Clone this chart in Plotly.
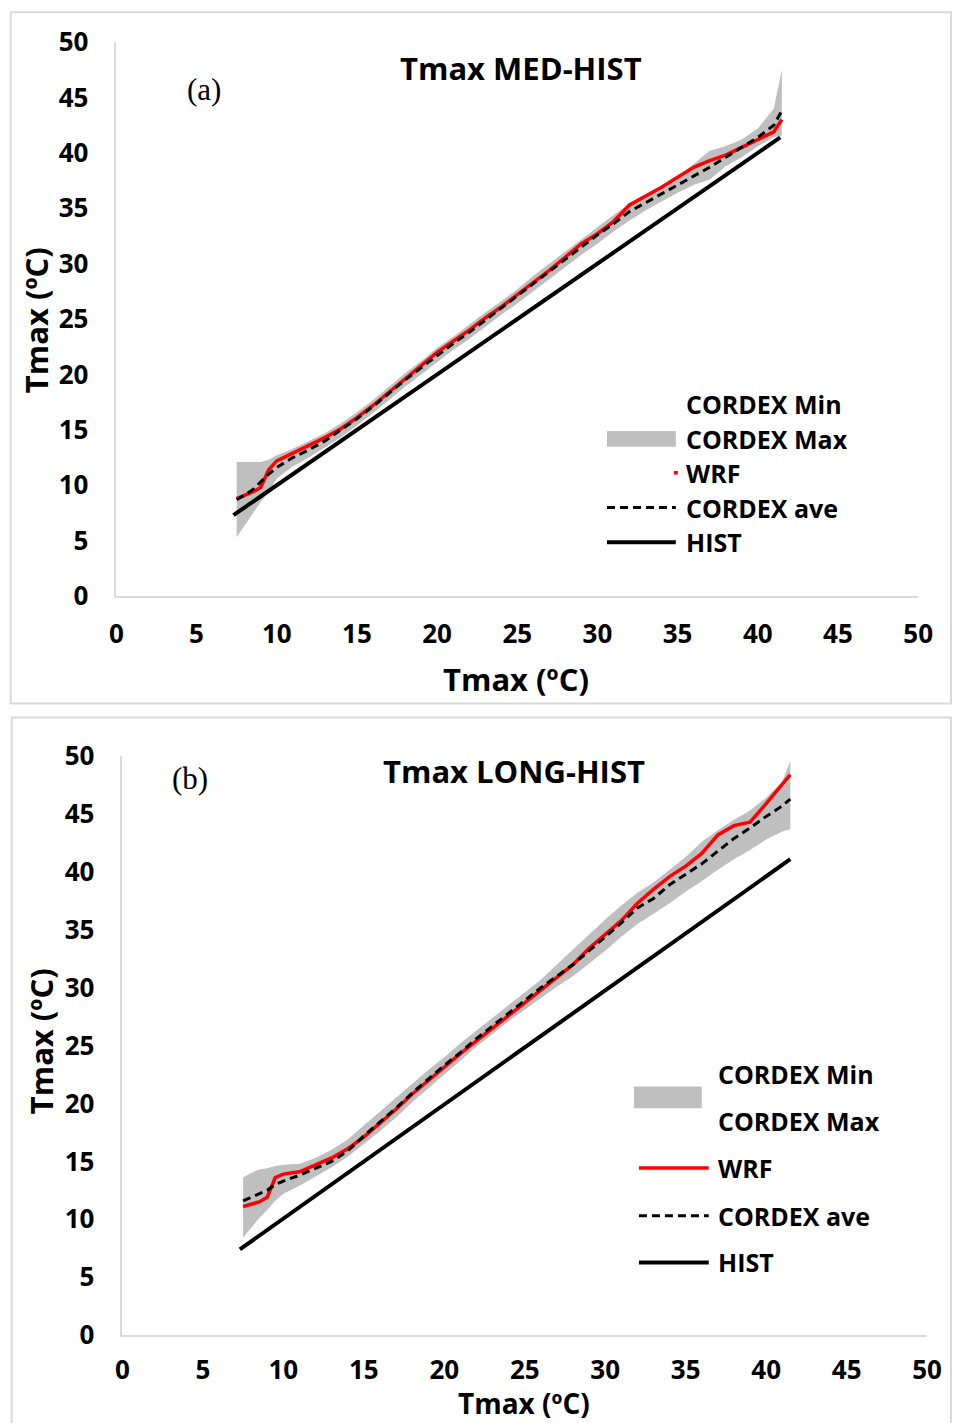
import plotly.graph_objects as go

W, H = 967, 1423
# the photographed page shows the figure slightly scaled/offset; positions below are
# given in target-picture pixels and mapped back to figure pixels
S, BX, BY = 0.98, 6.3, 16.8

# ---------------- data ----------------
x_q = [7.5, 8, 8.5, 9, 9.5, 10, 11, 12, 13, 14, 15, 16, 17, 18, 19, 20, 21, 22, 23, 24,
       25, 26, 27, 28, 29, 30, 31, 32, 33, 34, 35, 36, 37, 38, 39, 40, 41, 41.5]

# Panel (a) Tmax MED-HIST
wrf_a = [8.8, 9.1, 9.4, 9.8, 11.4, 12.2, 12.9, 13.6, 14.3, 15.1, 16.1, 17.2, 18.4, 19.6, 20.8,
         22.0, 23.0, 24.0, 25.1, 26.1, 27.2, 28.3, 29.4, 30.6, 31.8, 32.7, 33.8, 35.3, 36.1,
         36.9, 37.8, 38.7, 39.3, 39.8, 40.5, 41.2, 41.9, 43.0]
ave_a = [8.7, 9.1, 9.6, 10.3, 11.0, 11.6, 12.5, 13.2, 14.0, 15.0, 16.0, 17.1, 18.3, 19.5, 20.6,
         21.7, 22.8, 23.8, 24.9, 26.0, 27.1, 28.2, 29.3, 30.4, 31.5, 32.6, 33.6, 34.7, 35.5,
         36.3, 37.1, 37.9, 38.7, 39.6, 40.5, 41.4, 42.5, 43.8]
min_a = [5.3, 6.4, 7.5, 8.5, 9.4, 10.6, 11.7, 12.5, 13.4, 14.3, 15.4, 16.5, 17.7, 18.9, 20.0,
         21.1, 22.2, 23.2, 24.3, 25.4, 26.4, 27.5, 28.6, 29.7, 30.8, 31.8, 32.9, 33.9, 34.8,
         35.6, 36.4, 37.1, 37.6, 38.8, 39.6, 40.6, 41.4, 41.6]
max_a = [12.1, 12.1, 12.1, 12.1, 12.3, 12.7, 13.3, 14.0, 14.7, 15.6, 16.6, 17.7, 18.9, 20.1,
         21.2, 22.4, 23.4, 24.5, 25.6, 26.6, 27.7, 28.9, 30.0, 31.1, 32.2, 33.3, 34.4, 35.4,
         36.2, 37.0, 37.8, 39.0, 40.2, 40.6, 41.2, 42.2, 44.0, 47.5]
hist_x_a = [7.3, 41.4]
hist_y_a = [7.3, 41.4]

# Panel (b) Tmax LONG-HIST
wrf_b = [11.1, 11.3, 11.5, 11.9, 13.6, 13.9, 14.1, 14.7, 15.3, 16.1, 17.1, 18.3, 19.5, 20.8,
         22.0, 23.1, 24.3, 25.4, 26.5, 27.6, 28.7, 29.8, 30.9, 32.0, 33.4, 34.6, 35.8, 37.3,
         38.5, 39.6, 40.5, 41.6, 43.2, 44.0, 44.3, 45.9, 47.6, 48.4]
ave_b = [11.6, 11.9, 12.2, 12.5, 13.0, 13.3, 13.8, 14.4, 15.0, 15.9, 17.2, 18.4, 19.6, 20.9,
         22.1, 23.3, 24.4, 25.6, 26.7, 27.8, 28.9, 30.0, 31.0, 32.0, 33.2, 34.4, 35.6, 36.9,
         37.7, 38.9, 39.8, 40.7, 41.8, 42.9, 43.8, 44.8, 45.7, 46.3]
min_b = [8.4, 9.3, 10.1, 10.8, 11.6, 12.2, 12.9, 13.7, 14.5, 15.4, 16.5, 17.6, 18.8, 20.1,
         21.3, 22.5, 23.7, 24.9, 26.0, 27.1, 28.1, 29.1, 30.1, 31.0, 32.1, 33.2, 34.4, 35.5,
         36.4, 37.3, 38.3, 39.2, 40.2, 41.1, 41.9, 42.8, 43.5, 43.7]
max_b = [13.6, 14.0, 14.3, 14.4, 14.6, 14.7, 14.8, 15.3, 16.0, 16.9, 18.1, 19.3, 20.5, 21.7,
         22.9, 24.0, 25.2, 26.3, 27.4, 28.5, 29.6, 30.7, 32.0, 33.3, 34.6, 35.9, 37.1, 38.2,
         39.1, 40.2, 41.3, 42.6, 43.6, 44.5, 45.3, 46.4, 47.8, 49.6]
hist_x_b = [7.3, 41.5]
hist_y_b = [7.4, 41.1]

titles = ["Tmax MED-HIST", "Tmax LONG-HIST"]
panel_tags = ["(a)", "(b)"]
axis_title = "Tmax (ºC)"
legend_labels = ["CORDEX Min", "CORDEX Max", "WRF", "CORDEX ave", "HIST"]
ticks = [0, 5, 10, 15, 20, 25, 30, 35, 40, 45, 50]

# ---------------- style ----------------
FONT = "Open Sans"
BAND = "#bfbfbf"
RED = "#ff0000"
GRID = "#d9d9d9"


def px(x):
    """target pixel x -> paper fraction"""
    return ((x - BX) / S) / W


def py(y):
    """target pixel y -> paper fraction"""
    return 1 - ((y - BY) / S) / H


fig = go.Figure()

panels = [
    dict(xa="x", ya="y", x=x_q, wrf=wrf_a, ave=ave_a, mn=min_a, mx=max_a,
         hx=hist_x_a, hy=hist_y_a),
    dict(xa="x2", ya="y2", x=x_q, wrf=wrf_b, ave=ave_b, mn=min_b, mx=max_b,
         hx=hist_x_b, hy=hist_y_b),
]

for p in panels:
    fig.add_trace(go.Scatter(x=p["x"], y=p["mn"], xaxis=p["xa"], yaxis=p["ya"],
                             mode="lines", line=dict(width=0, color=BAND),
                             showlegend=False, hoverinfo="skip"))
    fig.add_trace(go.Scatter(x=p["x"], y=p["mx"], xaxis=p["xa"], yaxis=p["ya"],
                             mode="lines", line=dict(width=0, color=BAND),
                             fill="tonexty", fillcolor=BAND,
                             showlegend=False, hoverinfo="skip"))
    fig.add_trace(go.Scatter(x=p["hx"], y=p["hy"], xaxis=p["xa"], yaxis=p["ya"],
                             mode="lines", line=dict(width=4, color="black"),
                             showlegend=False))
    fig.add_trace(go.Scatter(x=p["x"], y=p["wrf"], xaxis=p["xa"], yaxis=p["ya"],
                             mode="lines", line=dict(width=3.5, color=RED),
                             showlegend=False))
    fig.add_trace(go.Scatter(x=p["x"], y=p["ave"], xaxis=p["xa"], yaxis=p["ya"],
                             mode="lines", line=dict(width=3, color="black", dash="8px,5px"),
                             showlegend=False))

# plot-area target-pixel boxes (left, right, top(y=50), bottom(y=0))
boxes = [(116, 920, 40, 597), (122, 929, 758, 1340)]

axis_common = dict(range=[0, 50], tickvals=ticks, showgrid=False, zeroline=False,
                   showline=True, linecolor=GRID, linewidth=1.5, ticks="",
                   tickfont=dict(family=FONT, size=26, color="black", weight="bold"),
                   fixedrange=True)

for i, (l, r, t, b) in enumerate(boxes):
    sfx = "" if i == 0 else "2"
    fig.layout["xaxis" + sfx] = dict(axis_common, domain=[px(l), px(r)],
                                     anchor="y" + sfx, ticklabelstandoff=14 if i == 0 else 11)
    fig.layout["yaxis" + sfx] = dict(axis_common, domain=[py(b), py(t)],
                                     anchor="x" + sfx, ticklabelstandoff=21)

shapes = []
annotations = []

# outer frames
frames = [(10, 10, 953, 705), (11, 719, 953, 1440)]
for (x0, y0, x1, y1) in frames:
    shapes.append(dict(type="rect", xref="paper", yref="paper",
                       x0=px(x0), x1=px(x1), y0=py(y0), y1=py(y1),
                       line=dict(color=GRID, width=2), fillcolor="rgba(0,0,0,0)"))

# titles and labels
title_pos = [(522, 66), (515, 773)]
tag_pos = [(204, 88), (190, 780)]
xtitle_pos = [(517, 680), (525, 1408)]
ytitle_pos = [(35, 320), (40, 1045)]
xtitle_size = [31, 28]
for i in range(2):
    annotations.append(dict(text=titles[i], x=px(title_pos[i][0]), y=py(title_pos[i][1]),
                            xref="paper", yref="paper", showarrow=False,
                            xanchor="center", yanchor="middle",
                            font=dict(family=FONT, size=31, color="black", weight="bold")))
    annotations.append(dict(text=panel_tags[i], x=px(tag_pos[i][0]), y=py(tag_pos[i][1]),
                            xref="paper", yref="paper", showarrow=False,
                            xanchor="center", yanchor="middle",
                            font=dict(family="Liberation Serif", size=31, color="black")))
    annotations.append(dict(text=axis_title, x=px(xtitle_pos[i][0]), y=py(xtitle_pos[i][1]),
                            xref="paper", yref="paper", showarrow=False,
                            xanchor="center", yanchor="middle", borderpad=0,
                            font=dict(family=FONT, size=xtitle_size[i], color="black",
                                      weight="bold")))
    annotations.append(dict(text=axis_title, x=px(ytitle_pos[i][0]), y=py(ytitle_pos[i][1]),
                            xref="paper", yref="paper", showarrow=False, textangle=-90,
                            xanchor="center", yanchor="middle",
                            font=dict(family=FONT, size=31, color="black", weight="bold")))

# custom legends
leg = [
    dict(tx=685, ty=[404, 439, 473, 508, 543], rect=(608, 677, 431, 447),
         red=(675, 679, 473), dash=(608, 677, 508), solid=(608, 677, 543)),
    dict(tx=717, ty=[1078, 1125, 1172, 1220, 1267], rect=(635, 703, 1090, 1112),
         red=(640, 710, 1172), dash=(640, 710, 1220), solid=(640, 710, 1267)),
]
for L in leg:
    for lab, yy in zip(legend_labels, L["ty"]):
        annotations.append(dict(text=lab, x=px(L["tx"]), y=py(yy), xref="paper", yref="paper",
                                showarrow=False, xanchor="left", yanchor="middle",
                                font=dict(family=FONT, size=25, color="black", weight="bold")))
    x0, x1, y0, y1 = L["rect"]
    shapes.append(dict(type="rect", xref="paper", yref="paper", x0=px(x0), x1=px(x1),
                       y0=py(y1), y1=py(y0), line=dict(width=0), fillcolor=BAND))
    x0, x1, yy = L["red"]
    shapes.append(dict(type="line", xref="paper", yref="paper", x0=px(x0), x1=px(x1),
                       y0=py(yy), y1=py(yy), line=dict(color=RED, width=3.5)))
    x0, x1, yy = L["dash"]
    shapes.append(dict(type="line", xref="paper", yref="paper", x0=px(x0), x1=px(x1),
                       y0=py(yy), y1=py(yy), line=dict(color="black", width=3, dash="8px,5px")))
    x0, x1, yy = L["solid"]
    shapes.append(dict(type="line", xref="paper", yref="paper", x0=px(x0), x1=px(x1),
                       y0=py(yy), y1=py(yy), line=dict(color="black", width=4)))

fig.update_layout(width=W, height=H, margin=dict(l=0, r=0, t=0, b=0),
                  paper_bgcolor="white", plot_bgcolor="white", showlegend=False,
                  shapes=shapes, annotations=annotations)

fig.write_html("out.html", config={"displayModeBar": False})
